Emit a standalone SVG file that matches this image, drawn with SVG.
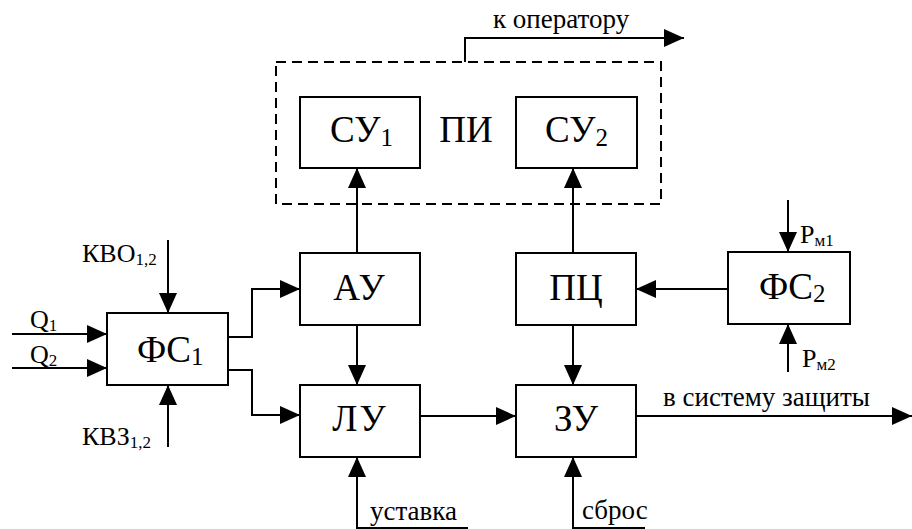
<svg xmlns="http://www.w3.org/2000/svg" width="912" height="529" viewBox="0 0 912 529">
<defs>
<marker id="a" markerUnits="userSpaceOnUse" markerWidth="20" markerHeight="20" refX="20" refY="9" orient="auto"><path d="M0,0 L20,9 L0,18 z" fill="#000"/></marker>
</defs>
<rect width="912" height="529" fill="#fff"/>
<g id="connectors" fill="none" stroke="#000" stroke-width="2">
<path d="M168,240 V313" marker-end="url(#a)"/>
<path d="M168,447 V385" marker-end="url(#a)"/>
<path d="M12,334 H107" marker-end="url(#a)"/>
<path d="M12,368 H107" marker-end="url(#a)"/>
<path d="M228,337 H252 V289 H300" marker-end="url(#a)"/>
<path d="M228,370 H252 V415 H300" marker-end="url(#a)"/>
<path d="M357,253 V168" marker-end="url(#a)"/>
<path d="M573,253 V168" marker-end="url(#a)"/>
<path d="M357,325 V385" marker-end="url(#a)"/>
<path d="M573,325 V385" marker-end="url(#a)"/>
<path d="M420,416 H516" marker-end="url(#a)"/>
<path d="M728,289 H636" marker-end="url(#a)"/>
<path d="M788,200 V252" marker-end="url(#a)"/>
<path d="M788,372 V324" marker-end="url(#a)"/>
<path d="M468,528 H357 V457" marker-end="url(#a)"/>
<path d="M645,528 H573 V457" marker-end="url(#a)"/>
<path d="M636,416 H912" marker-end="url(#a)"/>
<path d="M465,62 V38 H684" marker-end="url(#a)"/>
</g>
<g id="PI">
<rect x="276" y="62" width="385" height="142" fill="none" stroke="#000" stroke-width="2" stroke-dasharray="10,6"/>
<text x="466" y="142" text-anchor="middle" font-family="Liberation Serif, serif" font-size="37">ПИ</text>
</g>
<g id="SU1"><rect x="300" y="97" width="120" height="71" fill="#fff" stroke="#000" stroke-width="2"/><text x="330" y="142" font-family="Liberation Serif, serif" font-size="37">СУ<tspan dy="4" font-size="25">1</tspan></text></g>
<g id="SU2"><rect x="516" y="97" width="121" height="71" fill="#fff" stroke="#000" stroke-width="2"/><text x="545" y="142" font-family="Liberation Serif, serif" font-size="37">СУ<tspan dy="4" font-size="25">2</tspan></text></g>
<g id="AU"><rect x="300" y="253" width="120" height="72" fill="#fff" stroke="#000" stroke-width="2"/><text x="360" y="300" text-anchor="middle" font-family="Liberation Serif, serif" font-size="37" letter-spacing="2">АУ</text></g>
<g id="LU"><rect x="300" y="385" width="120" height="72" fill="#fff" stroke="#000" stroke-width="2"/><text x="360" y="431" text-anchor="middle" font-family="Liberation Serif, serif" font-size="37" letter-spacing="2">ЛУ</text></g>
<g id="PC"><rect x="516" y="253" width="120" height="72" fill="#fff" stroke="#000" stroke-width="2"/><text x="576" y="300" text-anchor="middle" font-family="Liberation Serif, serif" font-size="37">ПЦ</text></g>
<g id="ZU"><rect x="516" y="385" width="120" height="72" fill="#fff" stroke="#000" stroke-width="2"/><text x="576" y="431" text-anchor="middle" font-family="Liberation Serif, serif" font-size="37">ЗУ</text></g>
<g id="FS1"><rect x="107" y="313" width="121" height="72" fill="#fff" stroke="#000" stroke-width="2"/><text x="137" y="362" font-family="Liberation Serif, serif" font-size="37">ФС<tspan dy="3" font-size="25">1</tspan></text></g>
<g id="FS2"><rect x="728" y="252" width="122" height="72" fill="#fff" stroke="#000" stroke-width="2"/><text x="759" y="299" font-family="Liberation Serif, serif" font-size="37">ФС<tspan dy="3" font-size="25">2</tspan></text></g>
<g id="labels" font-family="Liberation Serif, serif">
<text x="493" y="28" font-family="Liberation Serif, serif" font-size="27">к оператору</text>
<text x="82" y="262" font-family="Liberation Serif, serif" font-size="26">КВО<tspan dy="3" font-size="17">1,2</tspan></text>
<text x="82" y="445" font-family="Liberation Serif, serif" font-size="26">КВЗ<tspan dy="3" font-size="17">1,2</tspan></text>
<text x="30" y="328" font-family="Liberation Serif, serif" font-size="26">Q<tspan dy="3" font-size="17">1</tspan></text>
<text x="30" y="363" font-family="Liberation Serif, serif" font-size="26">Q<tspan dy="3" font-size="17">2</tspan></text>
<text x="800" y="243" font-family="Liberation Serif, serif" font-size="26">Р<tspan dy="3" font-size="17">м1</tspan></text>
<text x="802" y="367" font-family="Liberation Serif, serif" font-size="26">Р<tspan dy="3" font-size="17">м2</tspan></text>
<text x="663" y="406" font-family="Liberation Serif, serif" font-size="27">в систему защиты</text>
<text x="370" y="520" font-family="Liberation Serif, serif" font-size="27">уставка</text>
<text x="582" y="519" font-family="Liberation Serif, serif" font-size="27">сброс</text>
</g>
</svg>
